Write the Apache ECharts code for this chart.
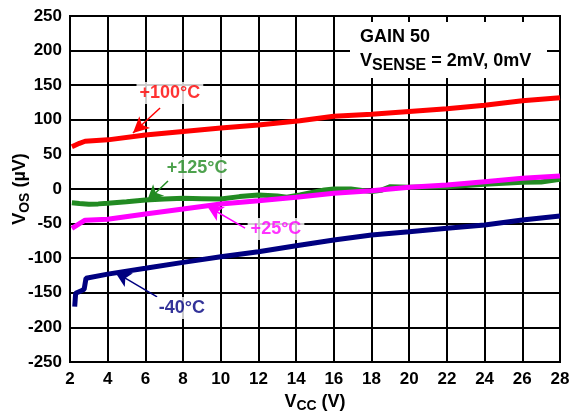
<!DOCTYPE html>
<html><head><meta charset="utf-8">
<script src="https://cdn.jsdelivr.net/npm/echarts@6/dist/echarts.min.js"></script>
<style>html,body{margin:0;padding:0;background:#fff}#c{width:579px;height:416px}</style>
</head><body><div id="c"></div>
<script>
// Data: [VCC (V), VOS (µV)]
const vcc100 = [2.1, 2.5, 2.8, 4, 6, 8, 10, 12, 14.2, 16, 18, 20, 22, 24, 26, 28];
const vos100 = [61, 66, 69, 71, 78, 83, 88, 92.5, 98.7, 105, 108, 112, 116, 121, 127.6, 132];
const vcc125 = [2.1, 2.5, 3, 3.5, 4, 5, 6, 7, 8, 9, 10, 11, 12, 13, 13.5, 14.2, 15.5, 16, 16.9, 18, 18.5, 19, 20, 22, 24, 26, 27, 28];
const vos125 = [-19.8, -21, -22, -21.5, -20.7, -18.5, -16, -14.5, -13.5, -14, -14.5, -11, -8.7, -10, -12, -8.7, -1.4, 0, 0, -3.8, -2, 3.4, 2.4, 3.4, 7, 9.6, 10, 14];
const vcc25 = [2.1, 2.8, 4, 6, 8, 10, 12, 14, 16, 18, 20, 22, 24, 26, 28];
const vos25 = [-56.9, -45, -43.8, -36, -29, -21.7, -17, -12, -6, -2.4, 2.4, 5.8, 10.6, 15.4, 18.8];
const vccM40 = [2.25, 2.3, 2.6, 2.75, 2.85, 4, 6, 8, 10, 12, 14, 16, 18, 20, 22, 24, 26, 28];
const vosM40 = [-170, -150.7, -147, -145, -129, -123, -114.6, -106, -97.8, -90.6, -82, -73.7, -66.5, -61.7, -56.8, -52, -44.8, -39];
const xTicks = [2, 4, 6, 8, 10, 12, 14, 16, 18, 20, 22, 24, 26, 28];
const yTicks = [-250, -200, -150, -100, -50, 0, 50, 100, 150, 200, 250];
// Annotation labels [x, y, text] and arrows [[x1,y1],[x2,y2]]
const labelNames = ['+100°C', '+125°C', '+25°C', '-40°C'];
const labelPos = [[7.3, 138.7], [8.74, 30.3], [12.93, -57.8], [7.94, -172]];
const arrowFrom = [[6.78, 117], [7.2, 11.6], [11.29, -56.4], [6.62, -156]];
const arrowTo = [[5.34, 81], [6.09, -17.3], [9.27, -24.6], [4.39, -120]];
const colors = ['#ff0000', '#228b22', '#ff00ff', '#000080'];

const FONT = 'Liberation Sans, Arial, sans-serif';
const pair = (xs, ys) => xs.map((x, i) => [x, ys[i]]);
const curves = [pair(vcc100, vos100), pair(vcc125, vos125), pair(vcc25, vos25), pair(vccM40, vosM40)];

const series = curves.map((d, i) => ({
  type: 'line', data: d, showSymbol: false, smooth: false, z: 3,
  lineStyle: { color: colors[i], width: 5 }, silent: true,
  markLine: {
    silent: true, symbol: ['none', 'arrow'], symbolSize: [12, 16],
    lineStyle: { color: colors[i], width: 1.5, type: 'solid' },
    label: { show: false },
    data: [[{ coord: arrowFrom[i] }, { coord: arrowTo[i] }]]
  }
}));
series.push({
  type: 'scatter', symbolSize: 0, z: 5, silent: true,
  data: labelPos.map((p, i) => ({
    value: p,
    label: {
      show: true, position: 'inside', formatter: labelNames[i],
      color: colors[i], fontFamily: FONT, fontWeight: 'bold', fontSize: 18,
      backgroundColor: '#fff', padding: [2, 3]
    }
  }))
});

const chart = echarts.init(document.getElementById('c'), null, { renderer: 'canvas' });
chart.setOption({
  animation: false,
  grid: { left: 70, right: 19, top: 16, bottom: 54, show: true, borderColor: '#000', borderWidth: 2,
          containLabel: false, outerBoundsMode: 'none' },
  xAxis: {
    type: 'value', min: xTicks[0], max: xTicks[xTicks.length - 1], interval: 2,
    axisLine: { show: true, lineStyle: { color: '#000', width: 2 } },
    axisTick: { show: false },
    splitLine: { show: true, lineStyle: { color: '#000', width: 2 } },
    axisLabel: { color: '#000', fontFamily: FONT, fontWeight: 'bold', fontSize: 17, margin: 9 },
    name: '{a|V}{b|CC}{a| (V)}', nameLocation: 'middle', nameGap: 27,
    nameTextStyle: {
      rich: {
        a: { fontFamily: FONT, fontWeight: 'bold', fontSize: 18, color: '#000' },
        b: { fontFamily: FONT, fontWeight: 'bold', fontSize: 14, color: '#000', padding: [9, 0, 0, 0] }
      }
    }
  },
  yAxis: {
    type: 'value', min: yTicks[0], max: yTicks[yTicks.length - 1], interval: 50,
    axisLine: { show: true, lineStyle: { color: '#000', width: 2 } },
    axisTick: { show: false },
    splitLine: { show: true, lineStyle: { color: '#000', width: 2 } },
    axisLabel: { color: '#000', fontFamily: FONT, fontWeight: 'bold', fontSize: 17, margin: 8 },
    name: '{a|V}{b|OS}{a| (µV)}', nameLocation: 'middle', nameGap: 38, nameRotate: 90,
    nameMoveOverlap: false,
    nameTextStyle: {
      rich: {
        a: { fontFamily: FONT, fontWeight: 'bold', fontSize: 18, color: '#000' },
        b: { fontFamily: FONT, fontWeight: 'bold', fontSize: 14, color: '#000', padding: [9, 0, 0, 0] }
      }
    }
  },
  graphic: [{
    type: 'rect', left: 350, top: 22, z: 10,
    shape: { width: 197, height: 56 }, style: { fill: '#fff' }
  }, {
    type: 'text', left: 360, top: 28, z: 11,
    style: {
      text: '{a|GAIN 50}\n{a|V}{b|SENSE}{a| = 2mV, 0mV}',
      rich: {
        a: { fontFamily: FONT, fontWeight: 'bold', fontSize: 18, fill: '#000', lineHeight: 24 },
        b: { fontFamily: FONT, fontWeight: 'bold', fontSize: 16, fill: '#000', lineHeight: 24, padding: [9, 0, 0, 0] }
      }
    }
  }],
  series: series
});
</script></body></html>
